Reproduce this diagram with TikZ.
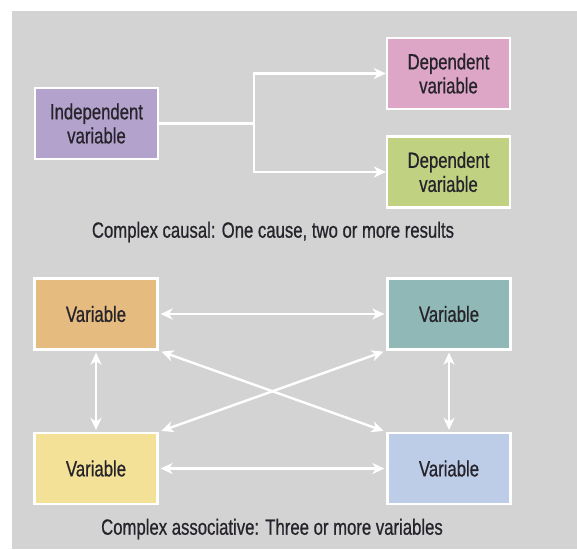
\documentclass[tikz,border=0pt]{standalone}
\usepackage{fontspec}
\setmainfont{Liberation Sans}[FakeStretch=0.76, FakeBold=0.7, BoldFont={Liberation Sans}]
\usetikzlibrary{arrows.meta}
\definecolor{bggrey}{HTML}{D3D3D3}
\definecolor{txt}{HTML}{26232B}
\definecolor{cpurple}{HTML}{B3A2CC}
\definecolor{cpink}{HTML}{DDA6C6}
\definecolor{cgreen}{HTML}{C0D282}
\definecolor{corange}{HTML}{E6BB80}
\definecolor{cteal}{HTML}{8FB8B6}
\definecolor{cyellow}{HTML}{F2E196}
\definecolor{cblue}{HTML}{BDCCE7}
\tikzset{
  varbox/.style={draw=white, line width=2.2pt, minimum width=123pt, minimum height=71pt,
    inner sep=0pt, align=center, text=txt, font=\fontsize{22}{24}\selectfont\bfseries},
  link/.style={draw=white, line width=2.4pt},
  tip/.style={-{Stealth[length=12pt,width=11pt,inset=3.5pt]}},
  bitip/.style={{Stealth[length=12pt,width=11pt,inset=3.5pt]}-{Stealth[length=12pt,width=11pt,inset=3.5pt]}},
  caption/.style={text=txt, font=\fontsize{22}{24}\selectfont\bfseries}
}
\begin{document}
\begin{tikzpicture}[x=1pt,y=-1pt]
  \useasboundingbox (0,0) rectangle (577,549);
  \fill[bggrey] (12,11) rectangle (577,549);

  % complex causal
  \node[varbox, fill=cpurple] (iv) at (96.5,123.5) {Independent\\variable};
  \node[varbox, fill=cpink] (dv1) at (448.5,73.5) {Dependent\\variable};
  \node[varbox, fill=cgreen] (dv2) at (448.5,172) {Dependent\\variable};
  \coordinate (fork) at (254,123.5);
  \draw[link] (iv.east) -- (fork);
  \draw[link, tip] (fork) |- (dv1.west);
  \draw[link, tip] (fork) |- (dv2.west);
  \node[caption] (cap1) at (273,232) {Complex causal: One cause, two or more results};

  % complex associative
  \node[varbox, fill=corange] (va) at (96,314) {Variable};
  \node[varbox, fill=cteal] (vb) at (449,314) {Variable};
  \node[varbox, fill=cyellow] (vc) at (96,468.5) {Variable};
  \node[varbox, fill=cblue] (vd) at (449,468.5) {Variable};
  \draw[link, bitip, shorten <=2pt, shorten >=2pt] (va) -- (vb);
  \draw[link, bitip, shorten <=2pt, shorten >=2pt] (vc) -- (vd);
  \draw[link, bitip, shorten <=2pt, shorten >=2pt] (va) -- (vc);
  \draw[link, bitip, shorten <=2pt, shorten >=2pt] (vb) -- (vd);
  \draw[link, bitip, shorten <=3pt, shorten >=3pt] (va.south east) -- (vd.north west);
  \draw[link, bitip, shorten <=3pt, shorten >=3pt] (vc.north east) -- (vb.south west);
  \node[caption] (cap2) at (272,529) {Complex associative: Three or more variables};
\end{tikzpicture}
\end{document}
